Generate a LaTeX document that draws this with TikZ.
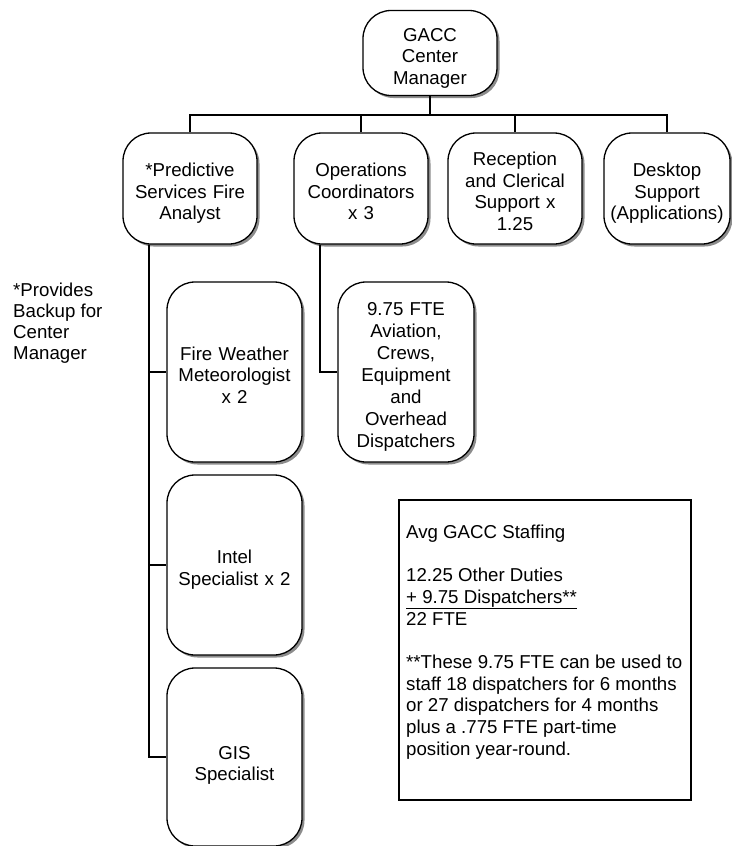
\documentclass[tikz,border=0pt]{standalone}
\usepackage{fontspec}
\setmainfont{Liberation Sans}
\usetikzlibrary{shadows}
% struts giving each box text a full first and last line height
\newcommand\bxtop{\rule{0pt}{23pt}}
\newcommand\bxbot{\rule[-4pt]{0pt}{4pt}}
\begin{document}
\begin{tikzpicture}[x=1pt,y=-1pt,
  every node/.style={font=\fontsize{18.67}{21.5}\selectfont},
  unit/.style={draw=black, line width=1.3pt, rounded corners=28pt, fill=white,
    align=center, inner sep=0pt,
    drop shadow={shadow xshift=2.5pt, shadow yshift=-2.5pt, fill=black!45, opacity=1}},
  row/.style={unit, minimum width=134pt, minimum height=111pt, text width=130pt},
  col/.style={unit, minimum width=135pt, minimum height=180pt, text width=131pt},
  link/.style={line width=1.3pt},
  note/.style={align=left, inner sep=0pt, anchor=north west}]
\useasboundingbox (0,0) rectangle (731,846);

% top of the chart
\node[unit, minimum width=134pt, minimum height=85pt, text width=130pt] (gacc) at (430,53) {\bxtop GACC\\Center\\Manager\bxbot};

% second row
\node[row] (pred) at (190,188.5) {\bxtop *Predictive\\Services Fire\\Analyst\bxbot};
\node[row] (ops)  at (361,188.5) {\bxtop Operations\\Coordinators\\x 3\bxbot};
\node[row] (rec)  at (515,188.5) {\bxtop Reception\\and Clerical\\Support x\\1.25\bxbot};
\node[row, minimum width=126pt, text width=124pt] (desk) at (667,188.5) {\bxtop Desktop\\Support\\(Applications)\bxbot};

% predictive services column
\node[col] (fwm)   at (234.5,372) {\bxtop Fire Weather\\Meteorologist\\x 2\bxbot};
\node[col] (intel) at (234.5,565) {\bxtop Intel\\Specialist x 2\bxbot};
\node[col, minimum height=178pt] (gis) at (234.5,757) {\rule{0pt}{30pt}GIS\\Specialist\bxbot};

% dispatch column
\node[col, minimum width=136pt, font=\fontsize{18.67}{22}\selectfont] (disp) at (406,372) {\bxtop 9.75 FTE\\Aviation,\\Crews,\\Equipment\\and\\Overhead\\Dispatchers\bxbot};

% connectors
\coordinate (bar) at (0,115);
\coordinate (predx) at (149,0);
\coordinate (opsx) at (320,0);
\draw[link] (gacc.south) -- (gacc.south |- bar);
\draw[link] (pred.north) -- (pred.north |- bar) -- (desk.north |- bar) -- (desk.north);
\draw[link] (ops.north |- bar) -- (ops.north);
\draw[link] (rec.north |- bar) -- (rec.north);
\draw[link] (pred.south -| predx) |- (gis.west);
\draw[link] (fwm.west -| predx) -- (fwm.west);
\draw[link] (intel.west -| predx) -- (intel.west);
\draw[link] (ops.south -| opsx) |- (disp.west);

% side note
\node[note, font=\fontsize{18.67}{21}\selectfont] (backup) at (13,282.5) {*Provides\\Backup for\\Center\\Manager};

% staffing summary
\draw[line width=2.4pt] (399,500) rectangle (691,800);
\node[note, font=\fontsize{18.67}{21.7}\selectfont] (staff) at (406,524.5)
  {Avg GACC Staffing\\[21.7pt]
   12.25 Other Duties\\
   \underline{+ 9.75 Dispatchers**}\\
   22 FTE\\[21.7pt]
   **These 9.75 FTE can be used to\\
   staff 18 dispatchers for 6 months\\
   or 27 dispatchers for 4 months\\
   plus a .775 FTE part-time\\
   position year-round.};
\end{tikzpicture}
\end{document}
